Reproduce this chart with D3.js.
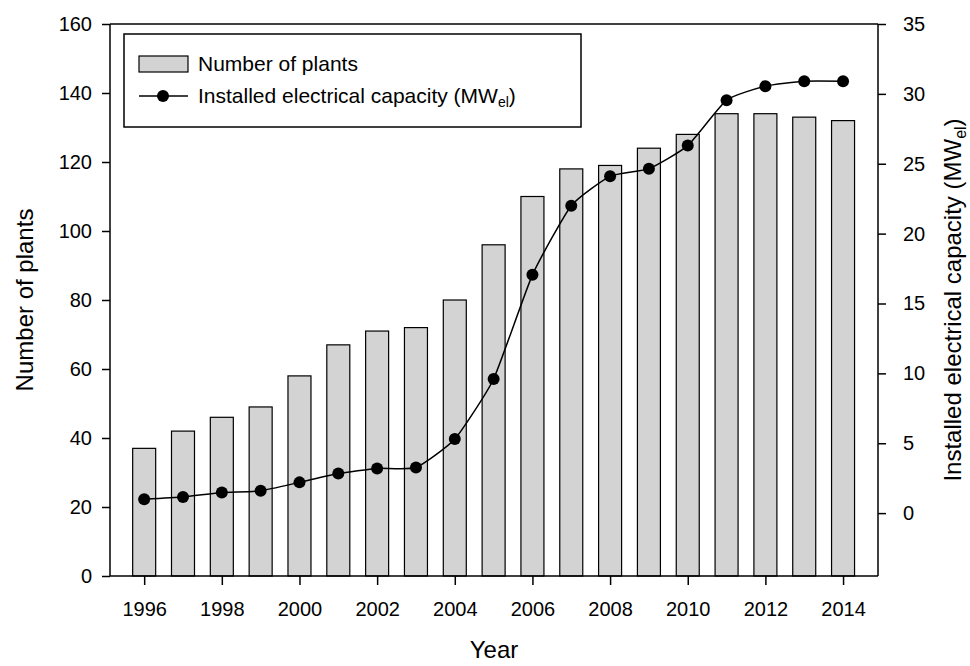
<!DOCTYPE html>
<html>
<head>
<meta charset="utf-8">
<script src="https://cdn.jsdelivr.net/npm/d3@7"></script>
<style>
  body { margin: 0; background: #fff; }
  text { font-family: "Liberation Sans", Arial, sans-serif; fill: #000; }
</style>
</head>
<body>
<svg id="chart"></svg>
<script>
let years = [1996,1997,1998,1999,2000,2001,2002,2003,2004,2005,2006,2007,2008,2009,2010,2011,2012,2013,2014];
let plants = [37,42,46,49,58,67,71,72,80,96,110,118,119,124,128,134,134,133,132];
let capacity = [1.0,1.15,1.47,1.6,2.2,2.83,3.2,3.26,5.3,9.6,17.05,22.0,24.1,24.65,26.3,29.55,30.55,30.9,30.9];
let yearTicks = [1996,1998,2000,2002,2004,2006,2008,2010,2012,2014];
let leftTicks = [0,20,40,60,80,100,120,140,160];
let rightTicks = [0,5,10,15,20,25,30,35];

let svg = d3.select("#chart");
let width = 970;
let height = 666;
svg.attr("width", width).attr("height", height);

let pLeft = 110, pRight = 878, pTop = 24, pBottom = 576;

let x = d3.scaleLinear().domain([1995.12, 2014.9]).range([pLeft, pRight]);
let yL = d3.scaleLinear().domain([0, 160]).range([pBottom, pTop]);
let yR = d3.scaleLinear().domain([-4.5, 35]).range([pBottom, pTop]);

let data = years.map((yr, i) => ({year: yr, plants: plants[i], cap: capacity[i]}));
let barW = 23;

// bars
svg.selectAll("rect.bar")
  .data(data)
  .enter()
  .append("rect")
  .attr("class", "bar")
  .attr("x", d => x(d.year) - barW/2)
  .attr("y", d => yL(d.plants))
  .attr("width", barW)
  .attr("height", d => yL(0) - yL(d.plants))
  .style("fill", "#d3d3d3")
  .style("stroke", "#000")
  .style("stroke-width", 1.2);

// line
let line = d3.line()
  .x(d => x(d.year))
  .y(d => yR(d.cap))
  .curve(d3.curveCardinal.tension(0.5));

svg.append("path")
  .datum(data)
  .attr("d", line)
  .style("fill", "none")
  .style("stroke", "#000")
  .style("stroke-width", 1.5);

svg.selectAll("circle.pt")
  .data(data)
  .enter()
  .append("circle")
  .attr("class", "pt")
  .attr("cx", d => x(d.year))
  .attr("cy", d => yR(d.cap))
  .attr("r", 6)
  .style("fill", "#000");

// frame top line
svg.append("line")
  .attr("x1", pLeft).attr("x2", pRight)
  .attr("y1", pTop).attr("y2", pTop)
  .style("stroke", "#000").style("stroke-width", 1.5);

// axes
let xAxis = d3.axisBottom(x).tickValues(yearTicks).tickFormat(d3.format("d")).tickSize(9).tickPadding(17);
let gx = svg.append("g").attr("transform", "translate(0," + pBottom + ")").call(xAxis);

let gl = svg.append("g").attr("transform", "translate(" + pLeft + ",0)")
  .call(d3.axisLeft(yL).tickValues(leftTicks).tickSize(8).tickPadding(10));

let gr = svg.append("g").attr("transform", "translate(" + pRight + ",0)")
  .call(d3.axisRight(yR).tickValues(rightTicks).tickSize(8).tickPadding(17));

[gx, gl, gr].forEach(g => {
  g.select(".domain").style("stroke", "#000").style("stroke-width", 1.5);
  g.selectAll(".tick line").style("stroke", "#000").style("stroke-width", 1.5);
  g.selectAll(".tick text").style("font-size", "20px").style("font-family", "Liberation Sans, Arial, sans-serif");
});
// flat ends on domain paths
gx.select(".domain").attr("d", "M" + pLeft + ",0H" + pRight);
gl.select(".domain").attr("d", "M0," + pBottom + "V" + pTop);
gr.select(".domain").attr("d", "M0," + pBottom + "V" + pTop);

// axis titles
svg.append("text")
  .attr("x", (pLeft + pRight) / 2)
  .attr("y", 658)
  .attr("text-anchor", "middle")
  .style("font-size", "24px")
  .text("Year");

svg.append("text")
  .attr("transform", "translate(33," + ((pTop + pBottom) / 2) + ") rotate(-90)")
  .attr("text-anchor", "middle")
  .style("font-size", "24px")
  .text("Number of plants");

let rt = svg.append("text")
  .attr("transform", "translate(961," + ((pTop + pBottom) / 2) + ") rotate(-90)")
  .attr("text-anchor", "middle")
  .style("font-size", "24px");
rt.append("tspan").text("Installed electrical capacity (MW");
rt.append("tspan").attr("dy", 5).style("font-size", "16px").text("el");
rt.append("tspan").attr("dy", -5).text(")");

// legend
let lg = svg.append("g");
lg.append("rect")
  .attr("x", 124).attr("y", 34).attr("width", 457).attr("height", 93)
  .style("fill", "#fff").style("stroke", "#000").style("stroke-width", 1.5);
lg.append("rect")
  .attr("x", 139).attr("y", 56).attr("width", 49).attr("height", 16)
  .style("fill", "#d3d3d3").style("stroke", "#000").style("stroke-width", 1.2);
lg.append("text")
  .attr("x", 198).attr("y", 71)
  .style("font-size", "21px")
  .text("Number of plants");
lg.append("line")
  .attr("x1", 139).attr("x2", 188).attr("y1", 96).attr("y2", 96)
  .style("stroke", "#000").style("stroke-width", 1.5);
lg.append("circle")
  .attr("cx", 163).attr("cy", 96).attr("r", 6).style("fill", "#000");
let lt = lg.append("text")
  .attr("x", 198).attr("y", 103)
  .style("font-size", "21px");
lt.append("tspan").text("Installed electrical capacity (MW");
lt.append("tspan").attr("dy", 4).style("font-size", "14px").text("el");
lt.append("tspan").attr("dy", -4).text(")");
</script>
</body>
</html>
